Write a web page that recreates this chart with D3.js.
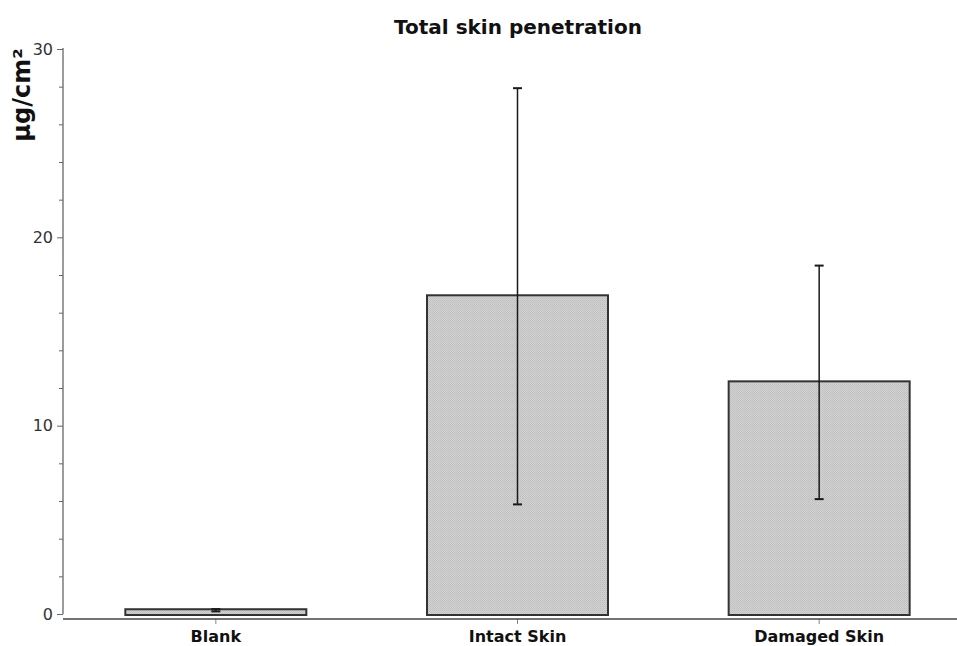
<!DOCTYPE html>
<html>
<head>
<meta charset="utf-8">
<script src="https://cdn.jsdelivr.net/npm/d3@7"></script>
<style>
  html, body { margin: 0; padding: 0; background: #fff; }
  svg { display: block; font-family: "DejaVu Sans", Verdana, sans-serif; }
</style>
</head>
<body>
<svg id="chart" width="957" height="646"></svg>
<script>
// Total skin penetration (µg/cm²), mean ± error per group
const categories = ["Blank", "Intact Skin", "Damaged Skin"];
const means = [0.2, 16.87, 12.3];
const errors = [0.06, 11.05, 6.2];
const yTicks = [0, 10, 20, 30];
const yMinorTicks = [2, 4, 6, 8, 12, 14, 16, 18, 22, 24, 26, 28];

const titleText = "Total skin penetration";
const yLabel = "µg/cm²";

const svg = d3.select("#chart");
const W = 957, H = 646;

const y = d3.scaleLinear().domain([0, 30]).range([614, 49]);
const x = d3.scaleBand()
  .domain(categories)
  .range([65, 970])
  .paddingInner(0.4)
  .paddingOuter(0.2);

// Stippled grey fill for the bars
const defs = svg.append("defs");
const pat = defs.append("pattern")
  .attr("id", "stipple")
  .attr("width", 2).attr("height", 2)
  .attr("patternUnits", "userSpaceOnUse");
pat.append("rect").attr("width", 2).attr("height", 2).attr("fill", "#d2d2d2");
pat.append("rect").attr("width", 1).attr("height", 1).attr("fill", "#bdbdbd");
pat.append("rect").attr("x", 1).attr("y", 1).attr("width", 1).attr("height", 1).attr("fill", "#c4c4c4");

// Title
svg.append("text")
  .attr("x", 518).attr("y", 34)
  .attr("text-anchor", "middle")
  .attr("font-size", 20).attr("font-weight", "bold")
  .attr("fill", "#111")
  .text(titleText);

// Y axis label
svg.append("text")
  .attr("transform", "translate(30,95) rotate(-90)")
  .attr("text-anchor", "middle")
  .attr("font-size", 24).attr("font-weight", "bold")
  .attr("fill", "#111")
  .text(yLabel);

// Y axis: major ticks with labels
const yAxis = svg.append("g")
  .attr("transform", "translate(63,0)")
  .call(d3.axisLeft(y).tickValues(yTicks).tickSize(6).tickPadding(4).tickFormat(d3.format("d")));
yAxis.select(".domain").remove();
yAxis.selectAll(".tick line").attr("stroke", "#666");
yAxis.selectAll(".tick text")
  .attr("font-size", 16).attr("fill", "#333")
  .attr("font-family", "DejaVu Sans, Verdana, sans-serif");

// Y axis: minor ticks
svg.append("g")
  .attr("transform", "translate(63,0)")
  .call(d3.axisLeft(y).tickValues(yMinorTicks).tickSize(4).tickFormat(""))
  .call(g => g.select(".domain").remove())
  .selectAll(".tick line").attr("stroke", "#666");

svg.append("line")
  .attr("x1", 63).attr("x2", 63)
  .attr("y1", y(30) - 1).attr("y2", y(0))
  .attr("stroke", "#666").attr("stroke-width", 1.3);

// X axis
const xAxis = svg.append("g")
  .attr("transform", "translate(0,619)")
  .call(d3.axisBottom(x).tickSize(5).tickPadding(7));
xAxis.select(".domain").remove();
xAxis.selectAll(".tick line").attr("stroke", "#888");
xAxis.selectAll(".tick text")
  .attr("font-size", 16).attr("font-weight", "bold").attr("fill", "#111")
  .attr("font-family", "DejaVu Sans, Verdana, sans-serif");

svg.append("line")
  .attr("x1", 63).attr("x2", W)
  .attr("y1", 619).attr("y2", 619)
  .attr("stroke", "#444").attr("stroke-width", 1.5);

// Bars
svg.append("g").selectAll("rect")
  .data(categories)
  .join("rect")
  .attr("x", d => x(d))
  .attr("width", x.bandwidth())
  .attr("y", (d, i) => y(means[i]) - 1)
  .attr("height", (d, i) => y(0) - y(means[i]) + 2)
  .attr("fill", "url(#stipple)")
  .attr("stroke", "#333")
  .attr("stroke-width", 2);

// Error bars
const eb = svg.append("g").selectAll("g")
  .data(categories)
  .join("g")
  .attr("stroke", "#1a1a1a");
const cx = d => x(d) + x.bandwidth() / 2;
eb.append("line")
  .attr("x1", cx).attr("x2", cx)
  .attr("y1", (d, i) => y(means[i] + errors[i]))
  .attr("y2", (d, i) => y(means[i] - errors[i]))
  .attr("stroke-width", 1.5);
eb.append("line")
  .attr("x1", d => cx(d) - 4.5).attr("x2", d => cx(d) + 4.5)
  .attr("y1", (d, i) => y(means[i] + errors[i]))
  .attr("y2", (d, i) => y(means[i] + errors[i]))
  .attr("stroke-width", 2);
eb.append("line")
  .attr("x1", d => cx(d) - 4.5).attr("x2", d => cx(d) + 4.5)
  .attr("y1", (d, i) => y(means[i] - errors[i]))
  .attr("y2", (d, i) => y(means[i] - errors[i]))
  .attr("stroke-width", 2);
</script>
</body>
</html>
